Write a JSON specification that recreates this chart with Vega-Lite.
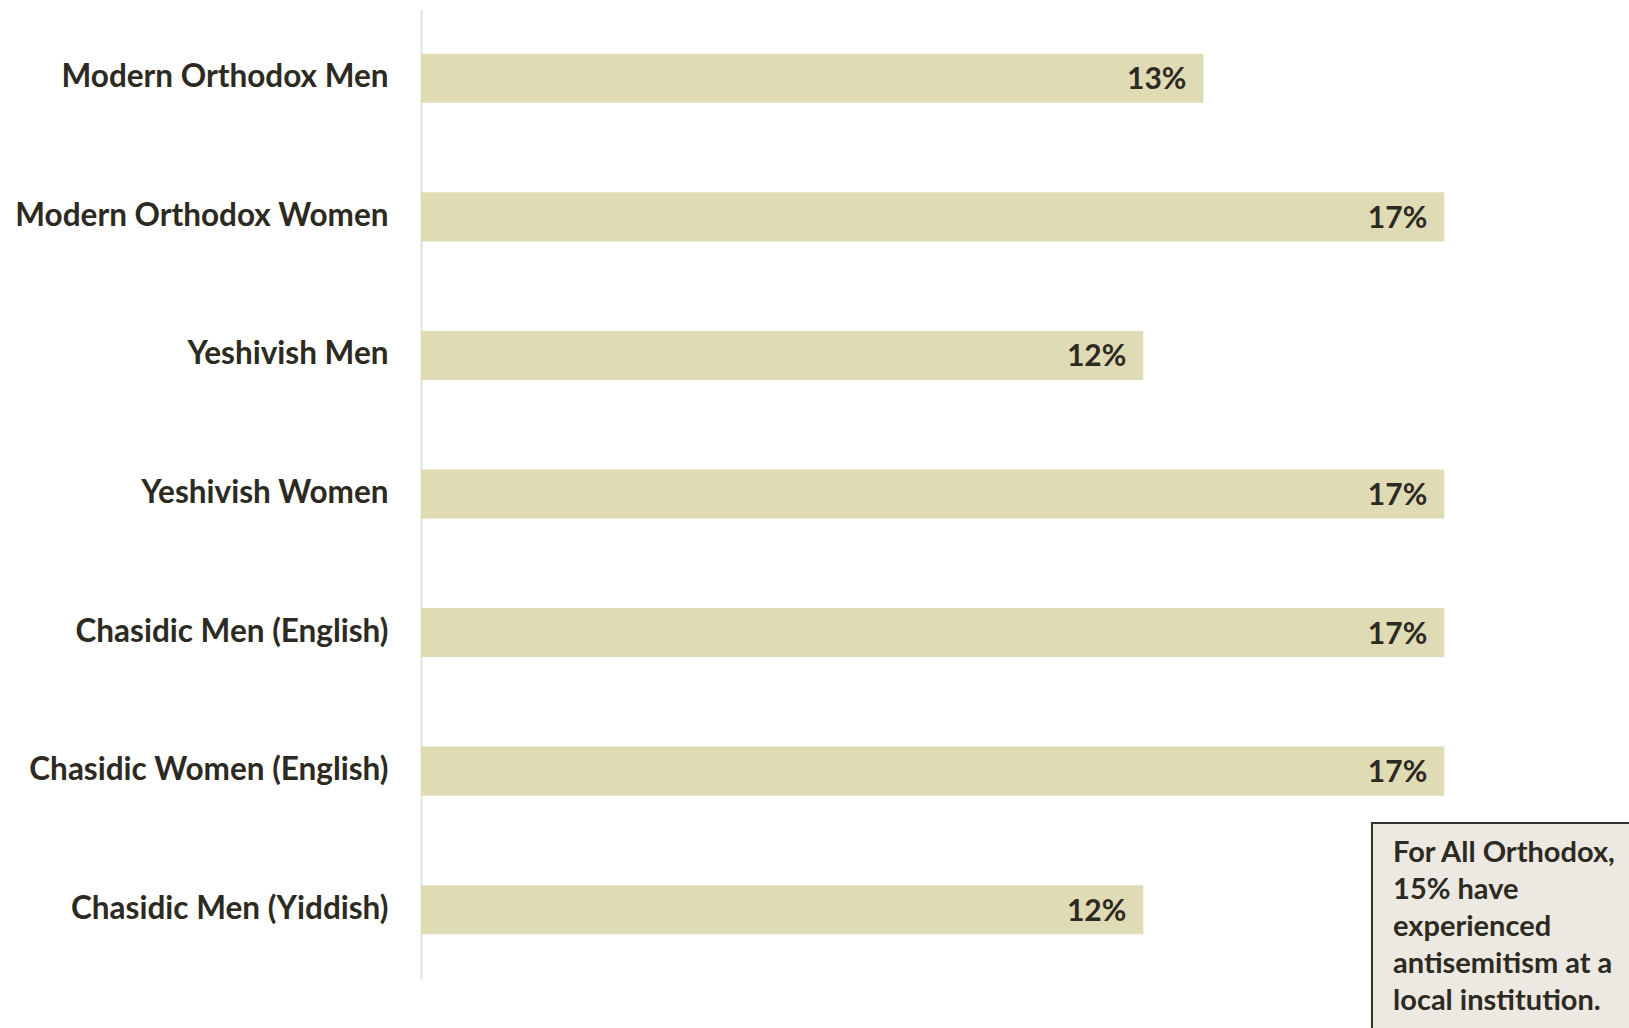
{
  "$schema": "https://vega.github.io/schema/vega-lite/v6.json",
  "width": 1208,
  "height": 970,
  "autosize": {"type": "none"},
  "padding": {"left": 421, "top": 9, "right": 0, "bottom": 49},
  "background": "white",
  "config": {"view": {"stroke": null}, "font": "Lato"},
  "data": {"values": [
    {"group": "Modern Orthodox Men", "value": 0.13},
    {"group": "Modern Orthodox Women", "value": 0.17},
    {"group": "Yeshivish Men", "value": 0.12},
    {"group": "Yeshivish Women", "value": 0.17},
    {"group": "Chasidic Men (English)", "value": 0.17},
    {"group": "Chasidic Women (English)", "value": 0.17},
    {"group": "Chasidic Men (Yiddish)", "value": 0.12}
  ]},
  "layer": [
    {
      "encoding": {
        "y": {"field": "group", "type": "nominal", "sort": null,
          "scale": {"paddingInner": 0.646, "paddingOuter": 0.323},
          "axis": {"title": null, "domain": true, "domainColor": "#e4e1d9", "domainWidth": 2, "ticks": false, "grid": false,
            "labelFontSize": 31.5, "labelFontWeight": "bold", "labelColor": "#2d2a22", "labelPadding": 33, "labelLimit": 0, "labelFont": "Lato"}},
        "x": {"field": "value", "type": "quantitative", "scale": {"domain": [0, 0.2007], "nice": false}, "axis": null}
      },
      "layer": [
        {"mark": {"type": "bar", "color": "#dfdbb4"}},
        {"mark": {"type": "text", "align": "right", "baseline": "middle", "dx": -17, "dy": 2, "fontSize": 30, "fontWeight": "bold", "color": "#2d2a22"},
         "encoding": {"text": {"field": "value", "type": "quantitative", "format": ".0%"}}}
      ]
    },
    {
      "data": {"values": [{"note": "For All Orthodox,|15% have|experienced|antisemitism at a|local institution."}]},
      "layer": [
        {"mark": {"type": "rect", "fill": "#ece9e3", "stroke": "#35332c", "strokeWidth": 2},
         "encoding": {
           "x": {"datum": 0.158, "type": "quantitative", "scale": {"domain": [0, 0.2007], "nice": false}},
           "x2": {"datum": 0.26},
           "y": {"datum": 5.875, "type": "quantitative", "scale": {"domain": [0, 7], "reverse": true, "nice": false, "zero": false}, "axis": null},
           "y2": {"datum": 7.6}
         }},
        {"mark": {"type": "text", "align": "left", "baseline": "alphabetic", "lineBreak": "|", "lineHeight": 37, "fontSize": 29, "fontWeight": "bold", "color": "#2d2a22"},
         "encoding": {
           "x": {"datum": 0.1615, "type": "quantitative"},
           "y": {"datum": 6.155, "type": "quantitative"},
           "text": {"field": "note", "type": "nominal"}
         }}
      ]
    }
  ],
  "resolve": {"scale": {"y": "independent"}}
}
